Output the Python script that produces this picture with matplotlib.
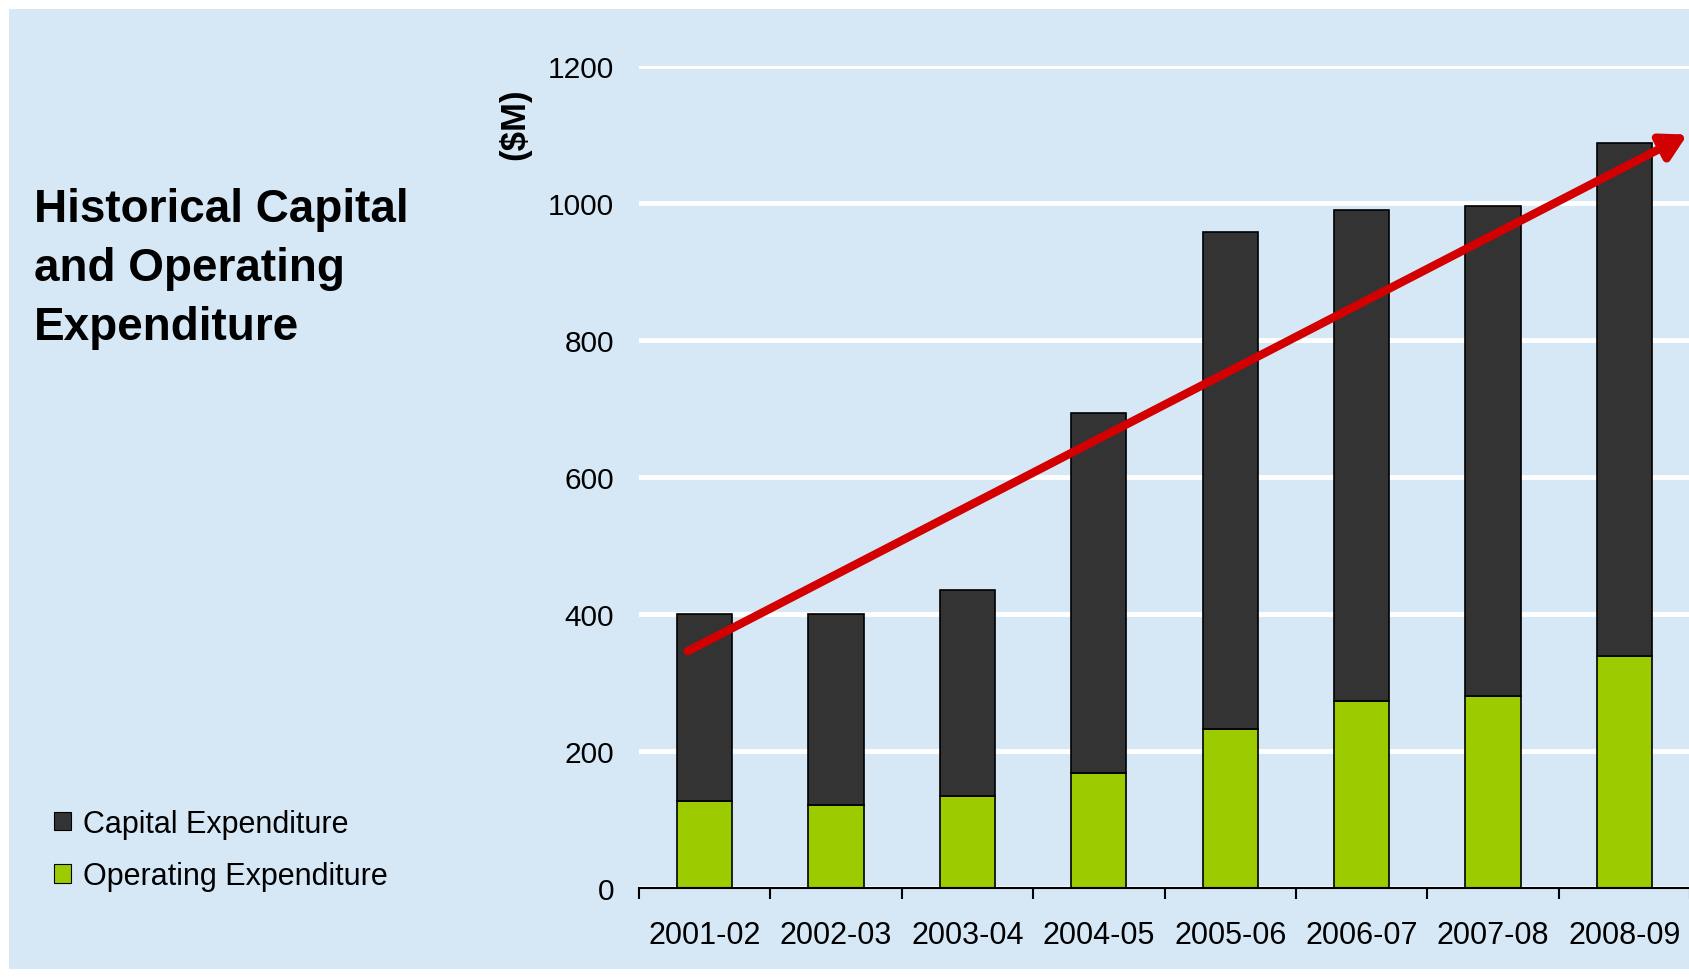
import numpy as np
import matplotlib.pyplot as plt
from matplotlib.patches import Patch, Rectangle

plt.rcParams['font.family'] = ['Liberation Sans', 'DejaVu Sans']

years = ['2001-02', '2002-03', '2003-04', '2004-05',
         '2005-06', '2006-07', '2007-08', '2008-09']
opex = [128, 121, 135, 168, 233, 274, 280, 339]
total = [400, 400, 436, 694, 958, 990, 995, 1087]
capex = [t - o for t, o in zip(total, opex)]
yticks = [0, 200, 400, 600, 800, 1000, 1200]

# trend arrow, tail and head in data units
trend_x = [-0.13, 7.48]
trend_y = [346, 1100]

title_lines = ['Historical Capital', 'and Operating', 'Expenditure']

bg = '#d6e8f6'
green = '#9ccc00'
dark = '#333333'
red = '#d20000'

fig = plt.figure(figsize=(16.9, 9.79), dpi=100, facecolor='white')
fig.patches.append(Rectangle((9 / 1690, 9 / 979), 1, 1 - 19 / 979,
                             transform=fig.transFigure, facecolor=bg,
                             edgecolor='none', zorder=-10))

ax = fig.add_axes([639 / 1690, 89.7 / 979, 1051 / 1690, 822.3 / 979])
ax.set_facecolor('none')

x = np.arange(len(years))
ax.bar(x, opex, width=0.42, color=green, edgecolor='black', linewidth=1.2, zorder=2)
ax.bar(x, capex, width=0.42, bottom=opex, color=dark, edgecolor='black',
       linewidth=1.2, zorder=2)

ax.annotate('', xy=(trend_x[1], trend_y[1]), xytext=(trend_x[0], trend_y[0]),
            arrowprops=dict(arrowstyle='-|>,head_length=0.5,head_width=0.28',
                            mutation_scale=30, lw=6, color=red,
                            shrinkA=0, shrinkB=0),
            zorder=4, annotation_clip=False)

ax.set_xlim(-0.5, len(years) - 0.5)
ax.set_ylim(0, 1200)
ax.set_yticks(yticks)
ax.set_yticklabels([str(v) for v in yticks], fontsize=21.5)
ax.tick_params(axis='y', length=0, pad=18)

ax.set_xticks(x)
ax.set_xticklabels(years, fontsize=22)
ax.set_xticks(np.arange(-0.5, len(years)), minor=True)
ax.tick_params(axis='x', which='major', length=0, pad=23)
ax.tick_params(axis='x', which='minor', length=8, width=1.5, direction='out')

ax.grid(axis='y', color='white', linewidth=3.5)
ax.set_axisbelow(True)
for side in ['left', 'right', 'top']:
    ax.spines[side].set_visible(False)
ax.spines['bottom'].set_linewidth(1.5)
ax.spines['bottom'].set_zorder(3)

fig.text(515 / 1690, 1 - 124 / 979, '($M)', rotation=90, fontsize=25,
         fontweight='bold', ha='center', va='center')

for i, line in enumerate(title_lines):
    fig.text(34 / 1690, 1 - (222 + 59 * i) / 979, line, fontsize=33,
             fontweight='bold', ha='left', va='baseline')

handles = [Patch(facecolor=dark, edgecolor='black', linewidth=0.8),
           Patch(facecolor=green, edgecolor='black', linewidth=0.8)]
fig.legend(handles, ['Capital Expenditure', 'Operating Expenditure'],
           loc='center left', bbox_to_anchor=(54 / 1690, 1 - 851 / 979),
           frameon=False, fontsize=22, handlelength=0.55, handleheight=0.55,
           handletextpad=0.4, labelspacing=0.75, borderpad=0, borderaxespad=0)

fig.savefig('out.png', dpi=100, facecolor=fig.get_facecolor())
